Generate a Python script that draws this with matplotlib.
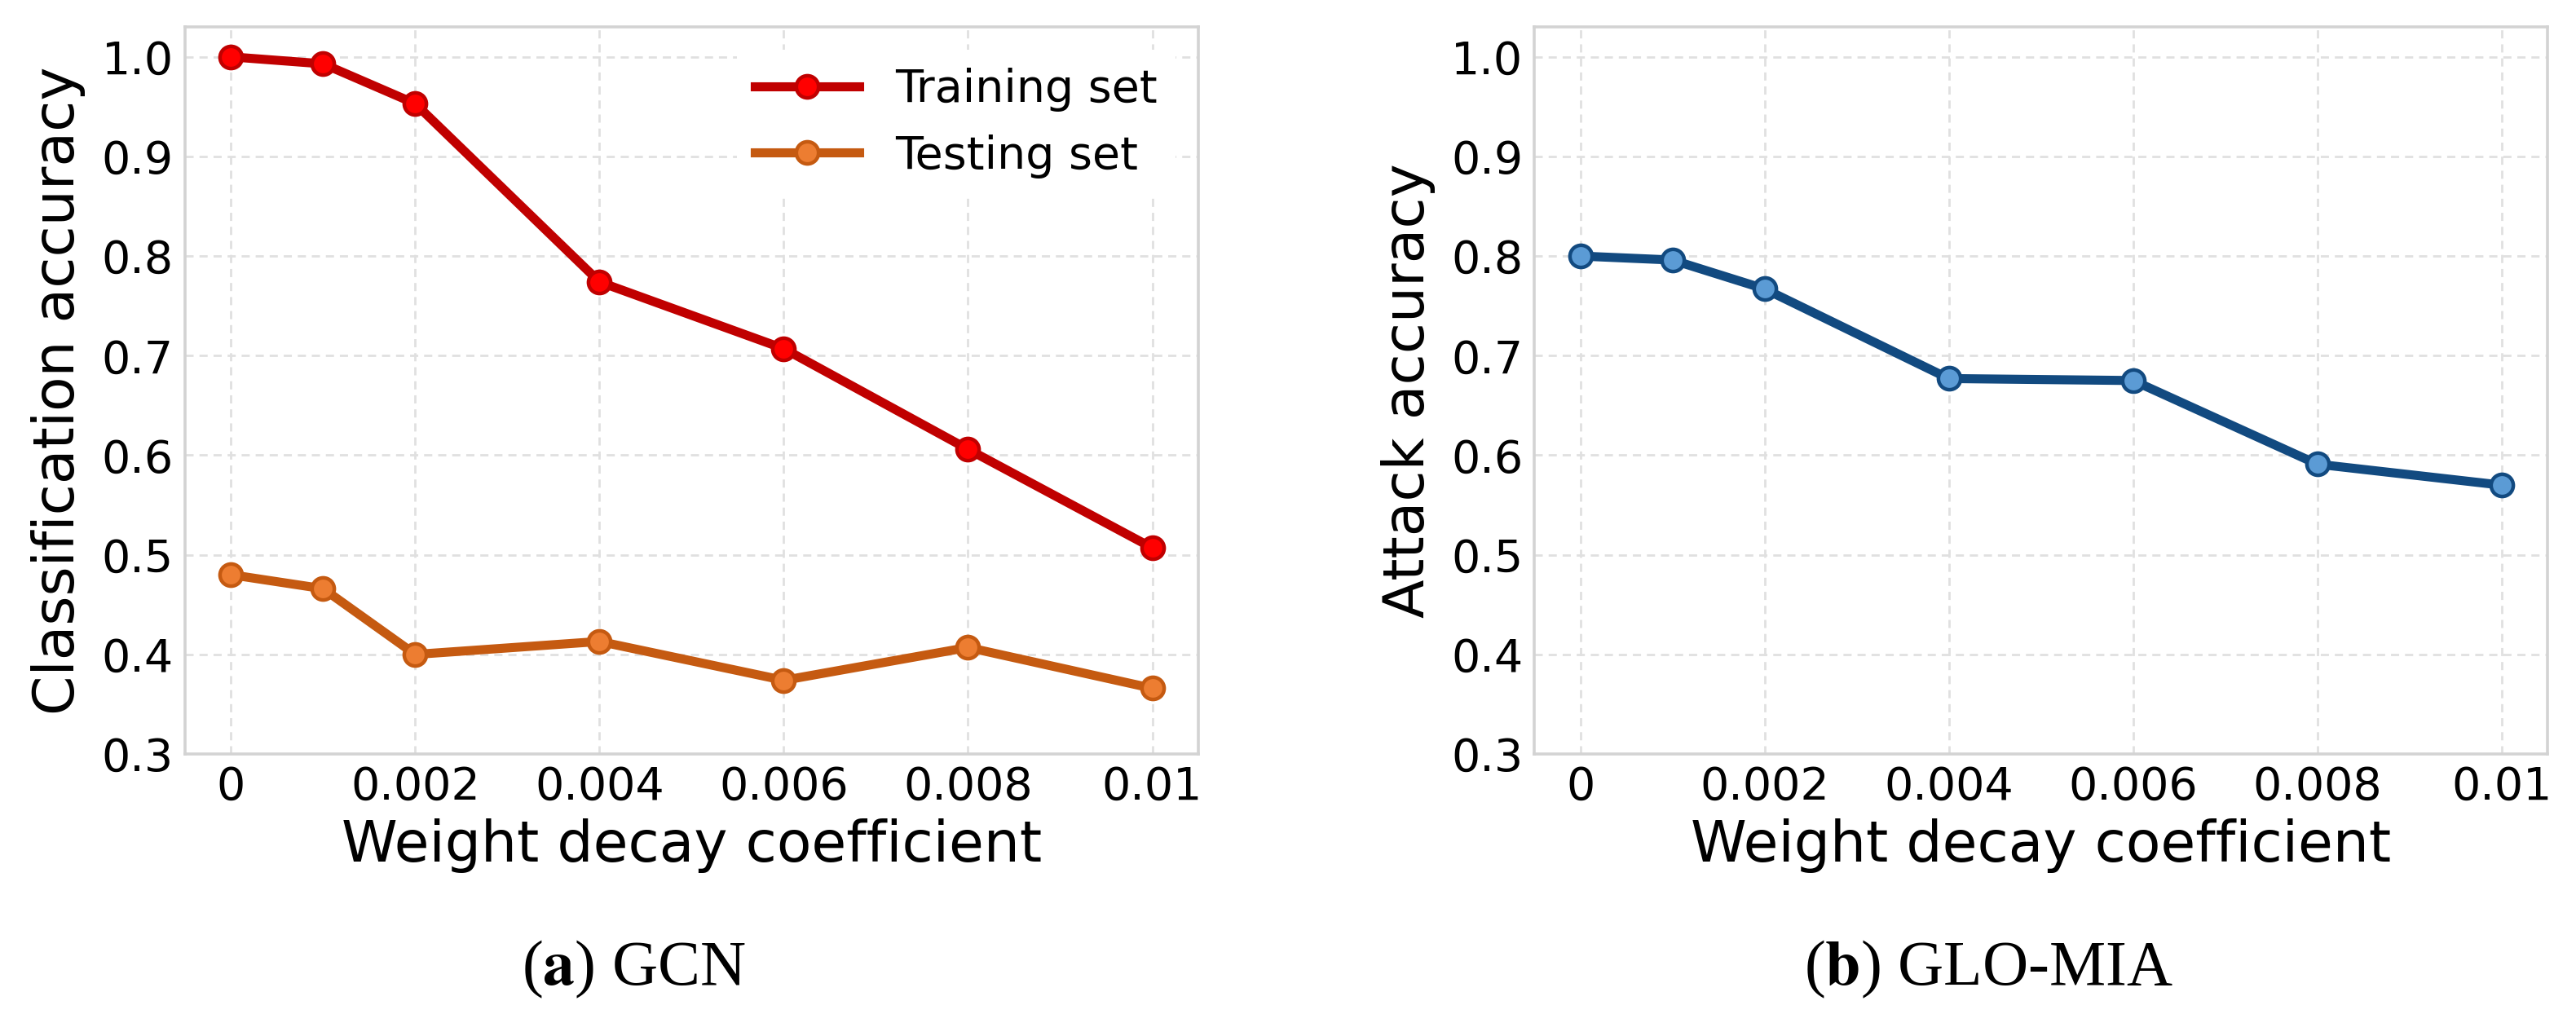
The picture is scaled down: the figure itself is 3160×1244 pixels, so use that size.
import numpy as np
import matplotlib
matplotlib.use("Agg")
import matplotlib.pyplot as plt

# data
weight_decay = [0, 0.001, 0.002, 0.004, 0.006, 0.008, 0.01]
train_acc = [1.000, 0.993, 0.953, 0.774, 0.707, 0.606, 0.507]
test_acc = [0.480, 0.466, 0.400, 0.413, 0.374, 0.407, 0.366]
attack_acc = [0.800, 0.796, 0.767, 0.677, 0.675, 0.591, 0.570]

xticks = [0, 0.002, 0.004, 0.006, 0.008, 0.01]
xtick_labels = ["0", "0.002", "0.004", "0.006", "0.008", "0.01"]
yticks = [0.3, 0.4, 0.5, 0.6, 0.7, 0.8, 0.9, 1.0]

plt.rcParams["font.family"] = ["DejaVu Sans"]
plt.rcParams["mathtext.fontset"] = "stix"

fig = plt.figure(figsize=(15.8, 6.22), dpi=200)
ax1 = fig.add_axes([0.0718, 0.2564, 0.3934, 0.717])
ax2 = fig.add_axes([0.5956, 0.2564, 0.3934, 0.717])


def style_axes(ax, ylabel):
    ax.set_xlim(-0.0005, 0.0105)
    ax.set_ylim(0.3, 1.03)
    ax.set_xticks(xticks)
    ax.set_xticklabels(xtick_labels)
    ax.set_yticks(yticks)
    ax.set_yticklabels(["%.1f" % v for v in yticks])
    ax.tick_params(length=0, labelsize=20, pad=5)
    ax.grid(True, color="#e0e0e0", linewidth=1.0, linestyle=(0, (3.6, 2.6)))
    ax.set_axisbelow(True)
    for s in ax.spines.values():
        s.set_color("#d3d3d3")
        s.set_linewidth(1.3)
    ax.set_xlabel("Weight decay coefficient", fontsize=25, labelpad=4)
    ax.set_ylabel(ylabel, fontsize=25, labelpad=7)


# (a) GCN
ax1.plot(weight_decay, train_acc, color="#C00000", lw=4, marker="o", ms=9.8,
         mfc="#FF0000", mec="#C00000", mew=1.6, label="Training set")
ax1.plot(weight_decay, test_acc, color="#C55A11", lw=4, marker="o", ms=9.8,
         mfc="#ED7D31", mec="#C55A11", mew=1.6, label="Testing set")
style_axes(ax1, "Classification accuracy")
leg = ax1.legend(loc="upper right", fontsize=20, handlelength=2.3,
                 frameon=True, framealpha=1, edgecolor="white", fancybox=False)
leg.get_frame().set_linewidth(0)

# (b) GLO-MIA
ax2.plot(weight_decay, attack_acc, color="#124A80", lw=4, marker="o", ms=9.8,
         mfc="#5B9BD5", mec="#124A80", mew=1.6)
style_axes(ax2, "Attack accuracy")

fig.text(0.246, 0.029, r"($\mathbf{a}$) GCN", fontsize=28, ha="center",
         va="baseline", family="Liberation Serif")
fig.text(0.772, 0.029, r"($\mathbf{b}$) GLO-MIA", fontsize=28, ha="center",
         va="baseline", family="Liberation Serif")

fig.savefig("out.png", dpi=200)
